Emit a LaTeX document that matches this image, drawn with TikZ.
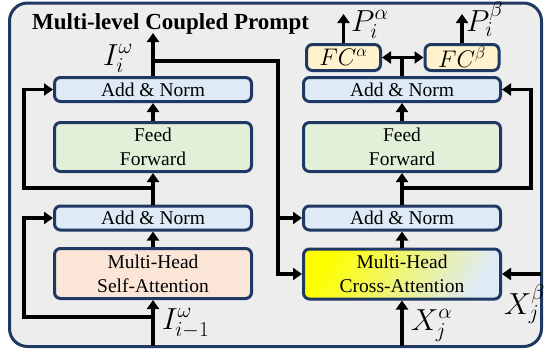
\RequirePackage{fix-cm}
\documentclass[tikz,border=0pt]{standalone}
\usepackage{fontspec}
\setmainfont{Liberation Serif}
\usetikzlibrary{arrows.meta,calc}
\definecolor{framefill}{HTML}{EDEDED}
\definecolor{boxline}{HTML}{1F3864}
\definecolor{normfill}{HTML}{DEEAF6}
\definecolor{fffill}{HTML}{E2F0D9}
\definecolor{attfill}{HTML}{FBE5D6}
\definecolor{fcfill}{HTML}{FFF2CC}
\newcommand{\labmath}[1]{\scalebox{1.17}{$#1$}}
\begin{document}
\begin{tikzpicture}[x=1pt, y=-1pt,
    box/.style={draw=boxline, line width=3pt, rounded corners=6pt, minimum width=197pt, inner sep=0pt, align=center, font=\fontsize{19.5}{24}\selectfont},
    norm node/.style={box, fill=normfill, minimum height=24pt},
    ff node/.style={box, fill=fffill, minimum height=49pt},
    att node/.style={box, minimum height=50pt},
    fc node/.style={box, fill=fcfill, minimum width=74pt, minimum height=26pt, font=\fontsize{20}{22}\selectfont},
    lab/.style={anchor=base west, inner sep=0pt, font=\fontsize{26}{30}\selectfont},
    arr/.style={line width=3.5pt, -{Triangle[length=9pt,width=12pt]}},
    line/.style={line width=3.5pt}]

                        \useasboundingbox (0,0) rectangle (545,354);
                        \draw[draw=boxline, fill=framefill, line width=3pt, rounded corners=18pt] (9.5,3) rectangle (541.5,346.5);

                        \node[anchor=base west, inner sep=0pt, font=\fontsize{23}{26}\selectfont\bfseries] at (32,29) (title) {Multi-level Coupled Prompt};

                        \node[norm node] at (153, 89.5) (an1) {Add \& Norm};
                        \node[ff node] at (153, 147) (ff1) {Feed\\Forward};
                        \node[norm node] at (153, 218) (an2) {Add \& Norm};
                        \node[att node, fill=attfill] at (153, 273.5) (sa) {Multi-Head\\Self-Attention};

                        \node[norm node] at (402, 89.5) (an3) {Add \& Norm};
                        \node[ff node] at (402, 147) (ff2) {Feed\\Forward};
                        \node[norm node] at (402, 218) (an4) {Add \& Norm};
                        \node[att node, left color=yellow, right color=normfill, shading angle=60] at (402, 274) (ca) {Multi-Head\\Cross-Attention};
                        \node[fc node] at (343.5, 57.5) (fca) {\scalebox{1.2}{$FC^{\alpha}$}};
                        \node[fc node] at (462, 57.5) (fcb) {\scalebox{1.2}{$FC^{\beta}$}};

                        \coordinate (in1) at (153, 346);
                        \coordinate (out1) at (153, 33);
                        \coordinate (xa) at (402, 346);
                        \coordinate (xb) at (541, 274);
                        \coordinate (pa) at (343.5, 14);
                        \coordinate (pb) at (462, 14);
                        \coordinate (b1) at (153, 317);
                        \coordinate (b2) at (153, 188);
                        \coordinate (b3) at (153, 61);
                        \coordinate (b4) at (402, 188);

                        \draw[arr] (in1) -- (sa);
                        \draw[arr] (b1) -- ++(-129,0) |- (an2.west);
                        \draw[arr] (sa) -- (an2);
                        \draw[arr] (an2) -- (ff1);
                        \draw[arr] (b2) -- ++(-129,0) |- (an1.west);
                        \draw[arr] (ff1) -- (an1);
                        \draw[arr] (an1) -- (out1);
                        \draw[arr] (b3) -| ([xshift=-24pt]ca.west) -- (ca.west);
                        \draw[arr] ([xshift=-24pt]an4.west) -- (an4.west);

                        \draw[arr] (xa) -- (ca);
                        \draw[arr] (xb) -- (ca.east);
                        \draw[arr] (ca) -- (an4);
                        \draw[arr] (an4) -- (ff2);
                        \draw[arr] (b4) -| ([xshift=29pt]an3.east) -- (an3.east);
                        \draw[arr] (ff2) -- (an3);
                        \draw[line] (an3.north) -- (an3.north |- fca.east) coordinate (j2);
                        \draw[arr] (j2) -- (fca.east);
                        \draw[arr] (j2) -- (fcb.west);
                        \draw[arr] (fca) -- (pa);
                        \draw[arr] (fcb) -- (pb);

                        \node[lab] at (103, 65) (iout) {\labmath{I_i^{\omega}}};
                        \node[lab] at (162, 329) (iin) {\labmath{I_{i-1}^{\omega}}};
                        \node[lab] at (411, 330) (xalab) {\labmath{X_j^{\alpha}}};
                        \node[lab] at (504, 314) (xblab) {\labmath{X_j^{\beta}}};
                        \node[lab] at (351, 31) (palab) {\labmath{P_i^{\alpha}}};
                        \node[lab] at (466, 31) (pblab) {\labmath{P_i^{\beta}}};

                    \end{tikzpicture}
\end{document}
